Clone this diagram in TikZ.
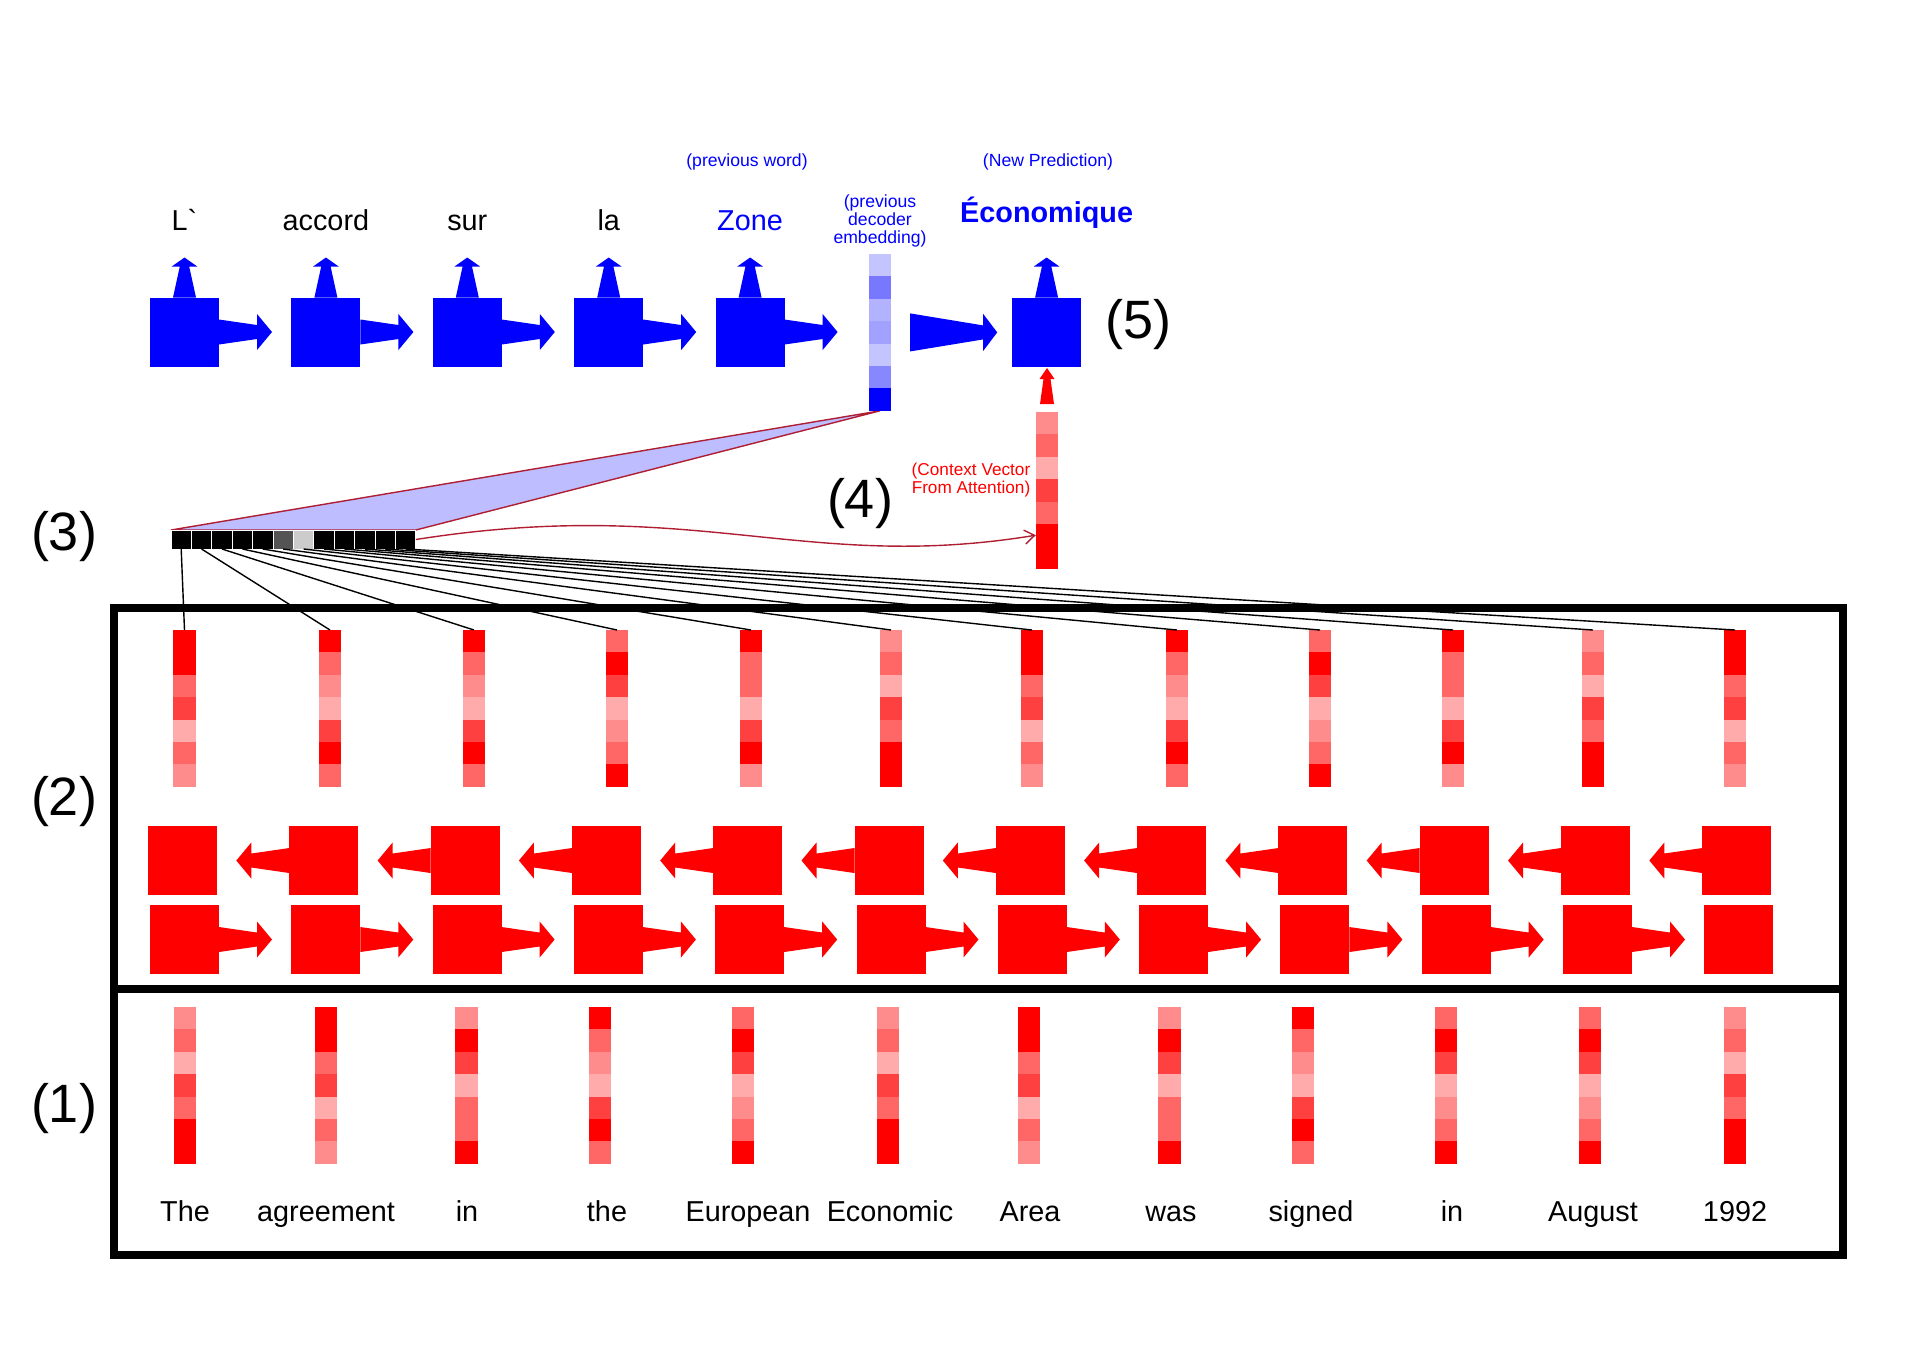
\documentclass[tikz,border=0pt]{standalone}
\usepackage{fontspec}
\setmainfont{Liberation Sans}
\usetikzlibrary{arrows.meta,backgrounds}

\definecolor{attline}{RGB}{175,30,50}

\tikzset{
  cell/.style={inner sep=0pt,outer sep=0pt,minimum width=11.2pt,minimum height=11.2pt},
  attcell/.style={inner sep=0pt,outer sep=0pt,minimum width=10.2pt,minimum height=9.5pt,draw=white,line width=0.5pt},
  rnn/.style={inner sep=0pt,outer sep=0pt,minimum size=34.5pt},
  word/.style={font=\fontsize{14.4}{16}\selectfont,anchor=base,inner sep=0pt},
  note/.style={font=\fontsize{8.8}{9}\selectfont,align=center,inner sep=0pt},
  stage/.style={font=\fontsize{27}{30}\selectfont,inner sep=0pt},
}

% a column of shaded cells: name, x, top y, colour, shades
\newcommand{\vecstack}[5]{%
  \edef\shadelist{#5}%
  \foreach \s [count=\k] in \shadelist
    \node[cell,fill=#4!\s] (#1-\k) at (#2,{#3+11.2+(\k-1)*22.4}) {};
}
% fat tapered arrows leaving a cell
\newcommand{\arrright}[2]{\fill[#2,shift={(#1.east)}] (0,-12.5) -- (38,-7) -- (38,-18) -- (53,0) -- (38,18) -- (38,7) -- (0,12.5) -- cycle;}
\newcommand{\arrleft}[2]{\fill[#2,shift={(#1.west)},xscale=-1] (0,-12.5) -- (38,-7) -- (38,-18) -- (53,0) -- (38,18) -- (38,7) -- (0,12.5) -- cycle;}
\newcommand{\arrup}[2]{\fill[#2,shift={(#1.north)}] (-11.5,0) -- (-4.7,-31) -- (-12.8,-31) -- (0,-40) -- (12.8,-31) -- (4.7,-31) -- (11.5,0) -- cycle;}

\begin{document}
\begin{tikzpicture}[x=0.5pt,y=-0.5pt]
  \useasboundingbox (0,0) rectangle (1920,1357);

  % decoder
  \foreach \i in {1,...,5}
    \node[rnn,fill=blue] (dec\i) at ({184.5+141.4*(\i-1)},332) {};
  \node[rnn,fill=blue] (dec6) at (1046.6,332) {};
  \foreach \i in {1,...,5} {\arrright{dec\i}{blue}}
  \foreach \i in {1,...,6} {\arrup{dec\i}{blue}}

  \foreach \i/\w in {1/L\textasciigrave,2/accord,3/sur,4/la}
    \node[word] (tgt\i) at ({184.5+141.4*(\i-1)},230) {\w};
  \node[word,text=blue] (tgt5) at (750,230) {Zone};
  \node[word,text=blue,font=\fontsize{14.4}{16}\selectfont\bfseries] (tgt6) at (1046.6,222) {Économique};

  \node[note,text=blue,anchor=base] (prevword) at (747,166) {(previous word)};
  \node[note,text=blue,anchor=base] (newpred) at (1048,166) {(New Prediction)};
  \node[note,text=blue] (prevnote) at (880,221) {(previous\\decoder\\embedding)};

  \vecstack{prev}{880}{254}{blue}{23,53,30,37,23,47,100}
  \fill[blue,shift={(prev-4.east)}] (19,-19) -- (92,-7) -- (92,-18.5) -- (106,0) -- (92,18.5) -- (92,7) -- (19,19) -- cycle;

  % context vector
  \vecstack{ctx}{1047}{412}{red}{45,60,33,75,60,100,100}
  \fill[red,shift={(ctx-1.north)}] (-7,-8) -- (-3.5,-33) -- (-7.5,-33) -- (0,-44) -- (7.5,-33) -- (3.5,-33) -- (7,-8) -- cycle;
  \node[note,text=red,font=\fontsize{8.6}{9}\selectfont] (ctxnote) at (971,480) {(Context Vector\\From Attention)};

  % attention weights
  \foreach \i/\g in {1/100,2/100,3/100,4/100,5/100,6/67,7/20,8/100,9/100,10/100,11/100,12/100}
    \node[attcell,fill=black!\g] (att\i) at ({181.2+20.4*(\i-1)},539.5) {};
  \begin{scope}[on background layer]
    \filldraw[fill=blue!26,draw=attline,line width=0.7pt] (prev-7.south) -- (att1.north west) -- (att12.north east) -- cycle;
  \end{scope}
  \draw[attline,line width=0.7pt,-{Straight Barb[length=5pt,width=7pt]}] (att12.east) .. controls +(280,-44) and +(-232,38) .. (ctx-6.west);

  % encoder states
  \foreach \i/\x/\sh in {1/184.5/{100,100,60,75,33,60,45},2/330/{100,60,45,33,75,100,60},
      3/474/{100,60,45,33,75,100,60},4/617/{60,100,75,33,45,60,100},5/751/{100,60,60,33,75,100,45},
      6/891/{45,60,33,75,60,100,100},7/1032/{100,100,60,75,33,60,45},8/1177/{100,60,45,33,75,100,60},
      9/1320/{60,100,75,33,45,60,100},10/1453/{100,60,60,33,75,100,45},11/1593/{45,60,33,75,60,100,100},
      12/1735/{100,100,60,75,33,60,45}}
    {\vecstack{hid\i}{\x}{630}{red}{\sh}}
  \foreach \i in {1,...,12}
    \draw[line width=0.7pt] (att\i.south) -- (hid\i-1.north);

  \foreach \i in {1,...,12} {
    \node[rnn,fill=red] (bwd\i) at ({182.5+141.3*(\i-1)},860.5) {};
    \node[rnn,fill=red] (fwd\i) at ({184.5+141.3*(\i-1)},939.5) {};
  }
  \foreach \i in {2,...,12} {\arrleft{bwd\i}{red}}
  \foreach \i in {1,...,11} {\arrright{fwd\i}{red}}

  % source embeddings
  \foreach \i/\x/\sh in {1/185/{45,60,33,75,60,100,100},2/326/{100,100,60,75,33,60,45},
      3/466.5/{45,100,75,33,60,60,100},4/600/{100,60,45,33,75,100,60},5/743/{60,100,75,33,45,60,100},
      6/888/{45,60,33,75,60,100,100},7/1029/{100,100,60,75,33,60,45},8/1169.5/{45,100,75,33,60,60,100},
      9/1303/{100,60,45,33,75,100,60},10/1446/{60,100,75,33,45,60,100},11/1590/{60,100,75,33,45,60,100},
      12/1735/{45,60,33,75,60,100,100}}
    {\vecstack{emb\i}{\x}{1007}{red}{\sh}}
  \foreach \i/\x/\w in {1/185/The,2/326/agreement,3/467/in,4/607/the,5/748/European,6/890/Economic,
      7/1030/Area,8/1171/was,9/1311/signed,10/1452/in,11/1593/August,12/1735/1992}
    \node[word] (src\i) at (\x,1221) {\w};

  % frames
  \draw[line width=4pt] (114,608) rectangle (1843,1255);
  \draw[line width=4pt] (114,989) -- (1843,989);

  \node[stage] (lab1) at (64,1108) {(1)};
  \node[stage] (lab2) at (64,802) {(2)};
  \node[stage] (lab3) at (64,537) {(3)};
  \node[stage] (lab4) at (860,504) {(4)};
  \node[stage] (lab5) at (1138,325) {(5)};
\end{tikzpicture}
\end{document}
